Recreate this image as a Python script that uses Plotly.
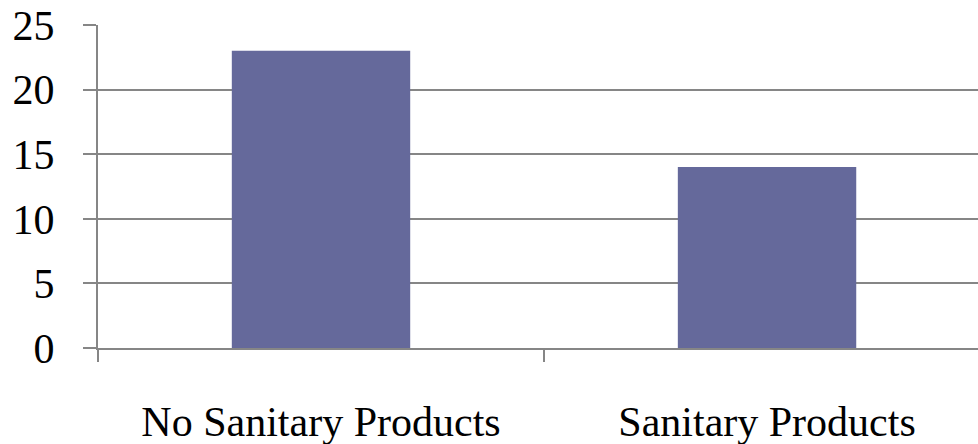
import plotly.graph_objects as go

categories = ["No Sanitary Products", "Sanitary Products"]
values = [23, 14]
y_ticks = [0, 5, 10, 15, 20, 25]

grid_color = "#868686"
bar_color = "#65699B"
font_family = "Liberation Serif"

fig = go.Figure(
    go.Bar(
        x=categories,
        y=values,
        width=0.4,
        marker=dict(color=bar_color, line=dict(width=0)),
    )
)

fig.update_layout(
    width=978,
    height=444,
    margin=dict(l=98, r=0, t=25, b=96),
    paper_bgcolor="white",
    plot_bgcolor="white",
    showlegend=False,
    font=dict(family=font_family, size=42, color="black"),
)

fig.update_xaxes(
    type="category",
    range=[-0.5, 1.473],
    tickson="boundaries",
    ticks="outside",
    ticklen=12,
    tickwidth=2,
    tickcolor=grid_color,
    showline=True,
    linecolor=grid_color,
    linewidth=2,
    showgrid=False,
    ticklabelstandoff=36,
    tickfont=dict(family=font_family, size=42),
)

fig.update_yaxes(
    range=[0, 25],
    tickvals=y_ticks,
    ticks="outside",
    ticklen=13,
    tickwidth=2,
    tickcolor=grid_color,
    showline=True,
    linecolor=grid_color,
    linewidth=2,
    showgrid=True,
    gridcolor=grid_color,
    gridwidth=2,
    zeroline=False,
    ticklabelstandoff=20,
    tickfont=dict(family=font_family, size=42),
)

fig.write_html("out.html")
